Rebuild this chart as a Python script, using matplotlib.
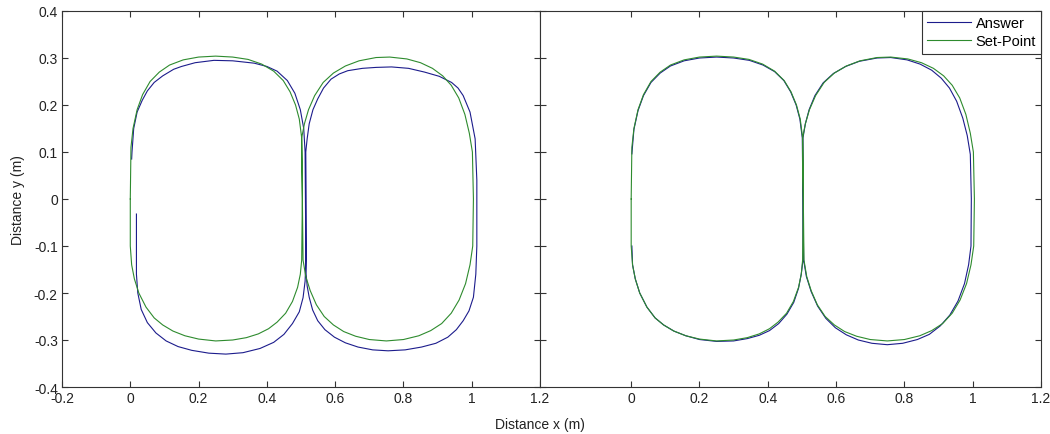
import numpy as np
import matplotlib as mpl
mpl.use('Agg')
import matplotlib.pyplot as pl

pl.rcParams['font.family'] = ['Liberation Sans', 'DejaVu Sans']

# set-point trajectory (same in both panels)
sp_x = [0.000, 0.000, 0.004, 0.012, 0.025, 0.046, 0.070, 0.095, 0.125, 0.160, 0.200, 0.250,
        0.300, 0.340, 0.375, 0.405, 0.430, 0.455, 0.475, 0.490, 0.498, 0.502, 0.504, 0.502,
        0.510, 0.522, 0.540, 0.565, 0.595, 0.630, 0.670, 0.720, 0.760, 0.810, 0.850, 0.885,
        0.915, 0.940, 0.962, 0.980, 0.993, 1.002, 1.005, 1.003, 0.995, 0.982, 0.963, 0.940,
        0.912, 0.880, 0.845, 0.800, 0.750, 0.700, 0.660, 0.625, 0.595, 0.568, 0.545, 0.527,
        0.514, 0.506, 0.504, 0.502, 0.495, 0.484, 0.468, 0.448, 0.420, 0.385, 0.345, 0.300,
        0.250, 0.200, 0.155, 0.115, 0.085, 0.058, 0.036, 0.020, 0.008, 0.002, 0.000]
sp_y = [0.000, -0.100, -0.140, -0.170, -0.200, -0.230, -0.253, -0.268, -0.281, -0.291, -0.298, -0.302,
        -0.300, -0.295, -0.287, -0.276, -0.262, -0.243, -0.218, -0.188, -0.160, -0.130, 0.000, 0.130,
        0.160, 0.190, 0.220, 0.248, 0.268, 0.283, 0.294, 0.301, 0.302, 0.298, 0.290, 0.278,
        0.262, 0.242, 0.215, 0.180, 0.140, 0.100, 0.000, -0.100, -0.140, -0.180, -0.215, -0.243,
        -0.265, -0.280, -0.291, -0.299, -0.302, -0.299, -0.292, -0.282, -0.268, -0.250, -0.225, -0.195,
        -0.165, -0.130, 0.000, 0.130, 0.170, 0.200, 0.228, 0.252, 0.272, 0.287, 0.297, 0.302,
        0.304, 0.302, 0.296, 0.285, 0.270, 0.250, 0.222, 0.190, 0.150, 0.110, 0.000]

# answer, left panel
ans1_x = [0.018, 0.018, 0.018, 0.022, 0.032, 0.050, 0.075, 0.105, 0.140, 0.180, 0.230, 0.280,
          0.330, 0.380, 0.420, 0.450, 0.475, 0.495, 0.506, 0.512, 0.515, 0.515, 0.514,
          0.518, 0.524, 0.535, 0.549, 0.566, 0.588, 0.612, 0.637, 0.680, 0.720, 0.765, 0.815,
          0.862, 0.905, 0.941, 0.960, 0.975, 0.995, 1.010, 1.015, 1.015, 1.012, 1.005, 0.992,
          0.975, 0.955, 0.930, 0.895, 0.853, 0.805, 0.755, 0.710, 0.667, 0.630, 0.598, 0.570,
          0.549, 0.534, 0.524, 0.518, 0.515, 0.514, 0.512, 0.508, 0.498, 0.482, 0.460, 0.430,
          0.400, 0.363, 0.300, 0.245, 0.190, 0.150, 0.127, 0.095, 0.070, 0.050, 0.035, 0.020,
          0.010, 0.005, 0.004]
ans1_y = [-0.032, -0.100, -0.160, -0.200, -0.235, -0.263, -0.285, -0.302, -0.314, -0.322, -0.328, -0.330,
          -0.327, -0.318, -0.305, -0.288, -0.265, -0.240, -0.210, -0.175, -0.120, 0.000, 0.100,
          0.128, 0.160, 0.190, 0.213, 0.236, 0.255, 0.266, 0.273, 0.278, 0.280, 0.281, 0.278,
          0.270, 0.261, 0.248, 0.236, 0.220, 0.185, 0.128, 0.040, -0.100, -0.160, -0.209, -0.238,
          -0.259, -0.278, -0.294, -0.307, -0.315, -0.321, -0.323, -0.321, -0.315, -0.306, -0.294, -0.278,
          -0.259, -0.236, -0.209, -0.185, -0.160, -0.100, 0.100, 0.150, 0.190, 0.225, 0.252, 0.272,
          0.282, 0.289, 0.294, 0.295, 0.290, 0.282, 0.276, 0.262, 0.248, 0.230, 0.210, 0.185,
          0.150, 0.100, 0.085]

# answer, right panel
ans2_x = [0.002, 0.004, 0.012, 0.025, 0.046, 0.070, 0.095, 0.125, 0.160, 0.200, 0.250, 0.300,
          0.340, 0.375, 0.405, 0.432, 0.456, 0.476, 0.490, 0.498, 0.503, 0.504, 0.503, 0.510,
          0.521, 0.538, 0.562, 0.592, 0.628, 0.668, 0.720, 0.760, 0.808, 0.846, 0.880, 0.908,
          0.932, 0.953, 0.971, 0.984, 0.993, 0.996, 0.995, 0.988, 0.976, 0.957, 0.933, 0.905,
          0.873, 0.838, 0.795, 0.750, 0.705, 0.665, 0.630, 0.598, 0.570, 0.546, 0.527, 0.513,
          0.505, 0.503, 0.501, 0.494, 0.483, 0.467, 0.447, 0.420, 0.386, 0.346, 0.300, 0.250,
          0.200, 0.155, 0.115, 0.085, 0.058, 0.036, 0.020, 0.008, 0.002]
ans2_y = [-0.100, -0.140, -0.170, -0.200, -0.230, -0.253, -0.268, -0.281, -0.291, -0.299, -0.303, -0.302,
          -0.297, -0.290, -0.280, -0.265, -0.245, -0.220, -0.190, -0.160, -0.130, 0.000, 0.130, 0.160,
          0.190, 0.220, 0.247, 0.267, 0.282, 0.293, 0.300, 0.301, 0.296, 0.287, 0.274, 0.257,
          0.236, 0.208, 0.172, 0.135, 0.095, 0.000, -0.100, -0.140, -0.180, -0.217, -0.247, -0.270,
          -0.288, -0.299, -0.307, -0.310, -0.307, -0.300, -0.289, -0.274, -0.254, -0.228, -0.197, -0.165,
          -0.130, 0.000, 0.130, 0.170, 0.200, 0.228, 0.252, 0.271, 0.285, 0.295, 0.300, 0.302,
          0.300, 0.294, 0.283, 0.268, 0.248, 0.220, 0.188, 0.148, 0.096]

xticks = [-0.2, 0, 0.2, 0.4, 0.6, 0.8, 1, 1.2]
yticks = [-0.4, -0.3, -0.2, -0.1, 0, 0.1, 0.2, 0.3, 0.4]

ansCol = '#1c1c8c'
spCol = '#2e8b2e'

f = pl.figure(figsize=(10.5, 4.35), dpi=100)
ax1 = f.add_axes([62/1050., 1-388/435., 478/1050., 376/435.])
ax2 = f.add_axes([540/1050., 1-388/435., 501/1050., 376/435.])

for ax, ax_x, ax_y in [(ax1, ans1_x, ans1_y), (ax2, ans2_x, ans2_y)]:
	la, = ax.plot(ax_x, ax_y, color=ansCol, lw=0.8, label='Answer')
	ls, = ax.plot(sp_x, sp_y, color=spCol, lw=0.8, label='Set-Point')
	ax.set_ylim(-0.4, 0.4)
	ax.set_yticks(yticks)
	ax.tick_params(direction='in', top=True, right=True, length=4.5, width=0.8,
				   labelsize=10, colors='#333333', labelcolor='#222222', pad=3)
	for s in ax.spines.values():
		s.set_linewidth(0.8)
		s.set_color('#333333')

ax1.set_xlim(-0.2, 1.2)
ax1.set_xticks(xticks)
ax1.set_xticklabels(['-0.2', '0', '0.2', '0.4', '0.6', '0.8', '1', '1.2'])
ax1.set_yticklabels(['-0.4', '-0.3', '-0.2', '-0.1', '0', '0.1', '0.2', '0.3', '0.4'])

ax2.set_xlim(-0.267, 1.2)
ax2.set_xticks(xticks[1:])
ax2.set_xticklabels(['0', '0.2', '0.4', '0.6', '0.8', '1', '1.2'])
ax2.set_yticklabels([])

leg = ax2.legend(loc='upper right', borderaxespad=0, fancybox=False, framealpha=1,
				 edgecolor='#333333', fontsize=10.5, handlelength=3.0, handletextpad=0.3,
				 borderpad=0.35, labelspacing=0.3)
leg.get_frame().set_linewidth(0.8)

f.text(540/1050., 1-425/435., 'Distance x (m)', ha='center', va='center', fontsize=10, color='#222222')
f.text(18/1050., 1-200/435., 'Distance y (m)', ha='center', va='center', rotation=90, fontsize=10, color='#222222')

f.savefig('out.png', dpi=100)
